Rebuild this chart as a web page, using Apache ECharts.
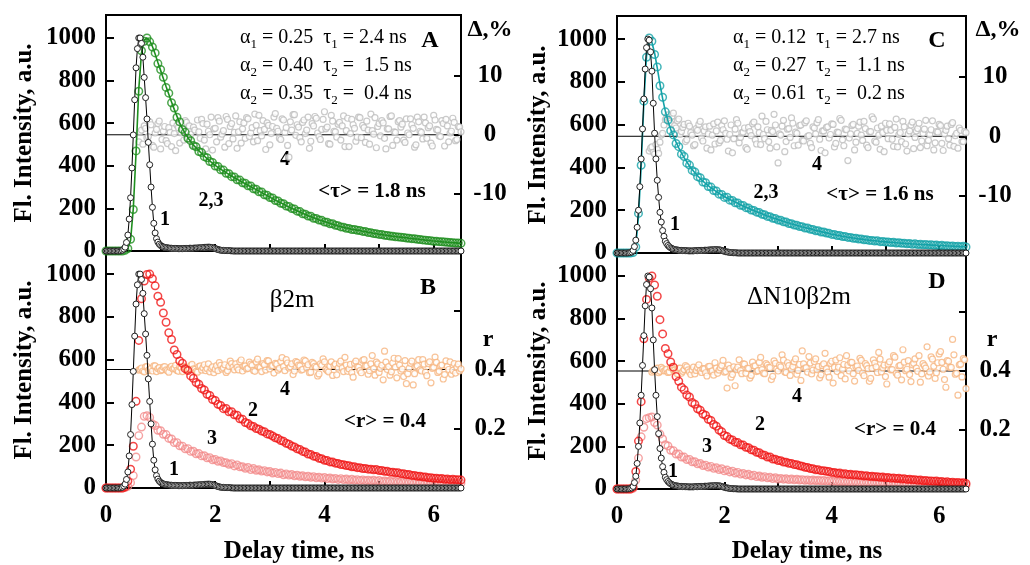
<!DOCTYPE html>
<html><head><meta charset="utf-8">
<script src="https://cdn.jsdelivr.net/npm/echarts@6/dist/echarts.min.js"></script>
<style>html,body{margin:0;padding:0;background:#fff}#c{width:1030px;height:565px}</style>
</head><body><div id="c"></div>
<script>
// ---------- DATA ----------
// main time channels (ns)
const timeNs = [
0,0.05,0.1,0.15,0.2,0.25,0.3,0.35,0.4,0.45,
0.5,0.55,0.6,0.65,0.7,0.75,0.8,0.85,0.9,0.95,
1,1.05,1.1,1.15,1.2,1.25,1.3,1.35,1.4,1.45,
1.5,1.55,1.6,1.65,1.7,1.75,1.8,1.85,1.9,1.95,
2,2.05,2.1,2.15,2.2,2.25,2.3,2.35,2.4,2.45,
2.5,2.55,2.6,2.65,2.7,2.75,2.8,2.85,2.9,2.95,
3,3.05,3.1,3.15,3.2,3.25,3.3,3.35,3.4,3.45,
3.5,3.55,3.6,3.65,3.7,3.75,3.8,3.85,3.9,3.95,
4,4.05,4.1,4.15,4.2,4.25,4.3,4.35,4.4,4.45,
4.5,4.55,4.6,4.65,4.7,4.75,4.8,4.85,4.9,4.95,
5,5.05,5.1,5.15,5.2,5.25,5.3,5.35,5.4,5.45,
5.5,5.55,5.6,5.65,5.7,5.75,5.8,5.85,5.9,5.95,
6,6.05,6.1,6.15,6.2,6.25,6.3,6.35,6.4,6.45,6.5];
// intermediate time channels (ns), used by IRF and residual / anisotropy points
const timeMid = [
0.025,0.075,0.125,0.175,0.225,0.275,0.325,0.375,0.425,0.475,
0.525,0.575,0.625,0.675,0.725,0.775,0.825,0.875,0.925,0.975,
1.025,1.075,1.125,1.175,1.225,1.275,1.325,1.375,1.425,1.475,
1.525,1.575,1.625,1.675,1.725,1.775,1.825,1.875,1.925,1.975,
2.025,2.075,2.125,2.175,2.225,2.275,2.325,2.375,2.425,2.475,
2.525,2.575,2.625,2.675,2.725,2.775,2.825,2.875,2.925,2.975,
3.025,3.075,3.125,3.175,3.225,3.275,3.325,3.375,3.425,3.475,
3.525,3.575,3.625,3.675,3.725,3.775,3.825,3.875,3.925,3.975,
4.025,4.075,4.125,4.175,4.225,4.275,4.325,4.375,4.425,4.475,
4.525,4.575,4.625,4.675,4.725,4.775,4.825,4.875,4.925,4.975,
5.025,5.075,5.125,5.175,5.225,5.275,5.325,5.375,5.425,5.475,
5.525,5.575,5.625,5.675,5.725,5.775,5.825,5.875,5.925,5.975,
6.025,6.075,6.125,6.175,6.225,6.275,6.325,6.375,6.425,6.475];

// instrument response (curve 1)
const irfBeta2m = [
0,0,0,0,0,0,4,18,75,250,545,860,1000,975,815,620,405,205,85,42,
26,19,16,14,13,12,12,11,11,12,12,13,13,14,15,16,17,18,18,16,
12,7,4,3,2,2,1,
0,0,0,0,0,0,0,0,0,0,0,0,0,0,0,0,0,0,0,0,0,0,0,0,0,0,0,0,0,0,0,0,0,0,0,0,0,0,0,0,0,0,
0,0,0,0,0,0,0,0,0,0,0,0,0,0,0,0,0,0,0,0,0,0,0,0,0,0,0,0,0,0,0,0,0,0,0,0,0,0,0,0,0,0];
const irfBeta2mMid = [
0,0,0,0,0,1,9,40,150,390,710,950,1000,910,720,510,300,130,58,32,
22,17,15,13,12,12,11,11,12,12,13,13,14,14,15,16,17,18,17,14,
9,5,3,2,2,1,
0,0,0,0,0,0,0,0,0,0,0,0,0,0,0,0,0,0,0,0,0,0,0,0,0,0,0,0,0,0,0,0,0,0,0,0,0,0,0,0,0,0,
0,0,0,0,0,0,0,0,0,0,0,0,0,0,0,0,0,0,0,0,0,0,0,0,0,0,0,0,0,0,0,0,0,0,0,0,0,0,0,0,0,0];
const irfDeltaN10 = [
0,0,0,0,0,2,12,60,200,440,720,960,995,850,560,340,190,105,55,35,
24,18,15,13,12,11,11,10,10,11,11,12,12,13,14,15,15,16,15,12,
8,5,3,2,1,
0,0,0,0,0,0,0,0,0,0,0,0,0,0,0,0,0,0,0,0,0,0,0,0,0,0,0,0,0,0,0,0,0,0,0,0,0,0,0,0,0,0,0,
0,0,0,0,0,0,0,0,0,0,0,0,0,0,0,0,0,0,0,0,0,0,0,0,0,0,0,0,0,0,0,0,0,0,0,0,0,0,0,0,0,0,0];
const irfDeltaN10Mid = [
0,0,0,0,1,5,30,120,310,580,860,1000,940,700,440,260,145,78,44,29,
21,16,14,12,11,11,10,10,10,11,12,12,13,13,14,15,16,15,14,10,
6,4,2,1,1,
0,0,0,0,0,0,0,0,0,0,0,0,0,0,0,0,0,0,0,0,0,0,0,0,0,0,0,0,0,0,0,0,0,0,0,0,0,0,0,0,0,0,0,
0,0,0,0,0,0,0,0,0,0,0,0,0,0,0,0,0,0,0,0,0,0,0,0,0,0,0,0,0,0,0,0,0,0,0,0,0,0,0,0,0,0];

// Panel A: beta2m magic-angle decay (2), fit (3), residuals (4, %)
const decayA = [
0,0,0,0,0,0,0,
3,12,55,195,470,750,940,985,1000,982,958,930,880,852,
816,768,741,696,671,628,606,571,557,529,518,495,489,467,462,443,438,420,416,399,
397,381,380,365,363,349,348,334,333,320,318,306,305,292,290,278,277,264,262,251,
249,237,235,224,222,211,209,199,197,187,185,175,173,164,163,154,153,145,144,136,
135,128,128,121,119,113,112,107,106,101,101,97,96,92,91,87,86,82,81,78,
77,74,73,70,69,67,66,64,63,61,60,58,57,55,54,52,51,49,48,46,
46,44,43,42,41,40,39,37,37,36];
const fitA = [
0,0,0,0,0,0,0,
2,10,50,200,460,760,930,990,1000,988,960,925,885,848,
810,772,736,700,665,632,600,575,552,532,514,498,484,471,458,446,434,423,412,402,
393,384,376,368,360,352,344,337,330,323,316,309,302,295,288,281,274,267,260,253,
246,239,232,226,220,213,207,201,195,189,183,177,171,166,161,156,151,146,142,138,
134,130,126,122,117,114,111,108,105,102,100,98,96,93,91,88,86,83,81,79,
77,75,73,71,69,68,66,65,63,62,60,59,57,56,54,53,51,50,48,47,
46,45,43,42,41,40,39,38,37,36];
const residA = [
null,null,null,null,null,null,null,null,null,null,null,null,
-1.2,0.8,1.5,-0.5,2.2,-1.8,0.3,1.9,-2.4,0.6,-1.0,1.2,-2.0,0.2,1.6,-1.4,0.9,2.4,-0.7,0.1,
1.3,-1.9,0.5,2.6,-0.9,1.8,0.0,-2.6,1.1,2.9,-0.4,0.7,3.1,-1.5,1.9,0.4,-2.3,2.2,1.0,-0.6,
2.7,0.3,-1.2,1.6,3.3,-0.2,0.9,2.0,-1.7,1.4,3.6,0.6,-0.8,2.5,1.2,-3.8,0.8,3.4,1.7,-0.5,
2.1,0.2,3.0,-1.1,1.5,2.8,-0.3,0.9,3.9,1.3,-1.6,2.3,0.5,1.8,-0.9,3.2,0.7,-2.0,2.6,1.1,
-0.4,2.9,1.6,-1.3,0.8,3.5,0.1,-2.2,1.9,2.4,-0.6,1.0,3.1,-1.8,0.4,2.2,1.3,-0.9,2.7,0.0,
1.7,-2.1,3.0,0.6,-0.7,2.0,1.2,-1.4,3.3,0.9,-0.2,2.4,-1.9,1.5,0.3,2.8,-1.0,1.4,0.5];
const residAMid = [
null,null,null,null,null,null,null,null,null,null,null,null,
0.5,-1.6,1.1,-0.3,1.7,-2.1,0.9,2.3,-0.8,1.4,
-1.5,0.4,2.0,-2.7,1.2,0.3,-0.9,2.1,1.5,-1.7,
0.8,2.5,-0.6,1.9,-2.4,0.6,3.0,1.0,-1.2,2.3,
0.1,-2.1,2.6,1.4,-0.7,3.2,0.5,-1.4,2.0,2.9,
-0.3,1.2,3.5,-1.0,0.7,2.4,-2.5,1.6,0.2,3.0,
1.1,-0.6,2.7,0.4,-1.8,2.2,3.4,-0.1,1.3,-1.2,
2.5,0.8,-2.3,1.9,3.1,0.3,-0.8,2.6,1.0,-1.5,
3.3,0.6,-0.4,2.1,1.5,-2.0,2.8,0.2,1.7,-1.1,
3.0,-0.5,1.2,2.3,-1.6,0.7,2.9,1.4,-0.2,2.0,
-2.4,1.0,3.2,0.5,-0.9,2.4,1.8,-1.3,0.3,2.7,
1.1,-1.7,2.2,0.4,3.0,-0.6,1.5,-1.9,2.5,0.8,
-0.3,1.9,2.6,-1.2,0.6,2.1,-0.8,1.3];

// Panel B: beta2m polarized decays (2 parallel, 3 perpendicular), anisotropy r (4)
const parB = [
0,0,0,0,0,0,0,5,
32,88,195,405,690,885,968,998,1000,978,945,897,868,
818,775,726,694,645,624,594,583,558,549,524,513,493,485,465,458,438,433,414,409,
391,386,371,372,356,357,342,340,324,321,306,302,291,288,278,275,266,263,253,250,
243,235,231,222,218,209,205,196,192,183,180,171,168,159,157,149,147,139,137,130,
128,122,121,116,115,110,109,105,104,99,99,95,95,91,91,88,88,85,86,82,
82,78,78,74,74,71,71,67,67,63,63,59,59,55,55,52,52,48,48,45,
46,43,44,41,42,39,41,38,39,37];
const perpB = [
0,0,0,0,0,0,0,2,8,
25,58,145,245,285,335,338,330,300,292,270,268,
251,250,232,229,212,212,197,196,183,184,171,172,160,161,150,151,141,142,132,134,
125,127,119,118,111,114,103,108,99,99,92,96,86,91,83,85,79,81,75,77,
70,73,67,70,62,66,60,63,57,60,55,57,52,55,50,53,48,51,46,49,
44,47,42,45,40,44,39,42,37,41,36,39,35,38,34,37,33,36,32,35,
30,33,29,32,28,31,27,30,27,29,26,28,25,28,24,27,24,26,23,26,
22,25,22,24,21,24,21,23,20,23];
const anisoB = [
null,null,null,null,null,null,null,null,null,null,null,null,
0.398,0.405,0.392,0.410,0.401,0.395,0.412,0.403,0.396,0.408,0.399,0.391,0.411,0.404,0.397,0.409,0.393,0.406,0.400,0.413,
0.402,0.394,0.410,0.398,0.416,0.403,0.392,0.409,0.401,0.396,0.414,0.405,0.390,0.411,0.420,0.399,0.407,0.426,0.395,0.412,
0.404,0.418,0.397,0.425,0.409,0.393,0.416,0.430,0.402,0.413,0.421,0.398,0.427,0.410,0.433,0.405,0.419,0.395,0.424,0.412,
0.400,0.429,0.416,0.391,0.420,0.408,0.385,0.414,0.426,0.397,0.411,0.380,0.418,0.405,0.428,0.393,0.415,0.402,0.389,0.421,
0.409,0.396,0.431,0.412,0.384,0.419,0.403,0.425,0.390,0.414,0.462,0.400,0.381,0.422,0.408,0.437,0.395,0.376,0.352,0.404,
0.428,0.386,0.412,0.399,0.433,0.391,0.420,0.355,0.407,0.424,0.394,0.415,0.383,0.410,0.426,0.397,0.388,0.418,0.402];
const anisoBMid = [
null,null,null,null,null,null,null,null,null,null,null,null,
0.401,0.395,0.409,0.397,0.404,0.412,0.393,0.406,0.399,0.410,
0.396,0.407,0.402,0.414,0.394,0.405,0.411,0.398,0.403,0.417,
0.400,0.391,0.412,0.406,0.396,0.419,0.404,0.389,0.413,0.423,
0.401,0.416,0.396,0.428,0.408,0.419,0.399,0.432,0.411,0.402,
0.425,0.414,0.394,0.435,0.407,0.420,0.398,0.429,0.413,0.388,
0.418,0.404,0.440,0.396,0.422,0.409,0.383,0.427,0.415,0.398,
0.432,0.406,0.389,0.424,0.411,0.378,0.419,0.436,0.401,0.392,
0.426,0.413,0.382,0.420,0.405,0.441,0.394,0.417,0.374,0.428,
0.408,0.389,0.433,0.412,0.396,0.447,0.381,0.419,0.404,0.365,
0.425,0.410,0.392,0.438,0.372,0.415,0.401,0.430,0.386,0.421,
0.348,0.407,0.433,0.395,0.418,0.379,0.426,0.404,0.442,0.390,
0.413,0.368,0.429,0.400,0.384,0.420,0.408,0.395];

// Panel C: dN10beta2m magic-angle decay (2), fit (3), residuals (4, %)
const decayC = [
0,0,0,0,0,0,2,
28,185,410,710,915,1005,990,928,870,782,728,660,622,572,
552,512,497,462,451,420,411,386,379,357,352,332,329,311,308,292,290,275,274,260,
261,247,246,235,234,223,222,212,210,201,199,191,189,181,179,171,170,162,161,154,
153,146,145,138,137,131,130,124,123,117,117,111,110,104,104,98,98,93,92,87,
87,82,82,77,77,73,73,69,69,65,66,62,62,59,59,56,57,53,54,51,
52,49,50,47,48,45,46,43,44,41,43,40,41,38,40,37,38,36,37,34,
36,33,34,32,33,30,32,29,31,28];
const fitC = [
0,0,0,0,0,0,3,
30,170,400,700,920,1000,985,935,865,790,722,664,617,578,
546,518,492,468,446,426,407,390,375,361,348,336,325,315,305,296,287,279,271,264,
257,250,244,238,232,226,220,214,209,203,198,193,188,183,178,173,169,164,160,156,
152,148,144,140,136,133,129,126,122,119,116,113,109,106,103,100,97,94,91,88,
86,83,81,78,76,74,72,70,68,66,65,63,61,60,58,57,56,54,53,52,
51,50,49,48,47,46,45,44,43,42,42,41,40,39,39,38,37,37,36,35,
35,34,33,33,32,31,31,30,30,29];
const residC = [
null,null,null,null,null,null,null,null,null,null,null,null,
-2.5,-1.8,-3.0,-2.2,-1.0,0.5,2.8,3.6,2.2,3.9,1.4,2.9,0.8,2.0,-0.6,1.7,0.2,-1.4,1.0,2.5,
-0.8,1.6,0.4,-2.3,2.1,0.9,-1.1,1.8,2.6,-0.5,0.3,-2.8,1.2,2.2,-0.2,0.7,-1.9,1.5,0.1,2.4,
-1.3,0.6,3.4,-0.4,1.1,-2.0,0.8,1.9,-4.5,0.2,2.7,-0.9,1.3,3.1,-1.6,0.5,1.8,-0.7,2.3,0.0,
-1.2,1.6,0.4,2.8,-2.4,0.9,1.5,-0.3,2.1,-1.8,0.7,3.0,-0.6,1.2,-4.1,0.4,2.0,-1.0,1.7,0.2,
2.5,-1.5,0.8,3.3,-0.8,1.4,-2.2,0.6,2.2,-0.4,1.0,-1.7,2.9,0.3,-0.9,1.6,-2.5,0.9,2.4,-0.2,
1.3,-1.9,0.5,2.7,-0.7,1.1,-2.3,0.8,2.0,-1.2,0.4,1.7,-1.5,2.3,0.1,-2.0,1.0,-0.9,0.6];
const residCMid = [
null,null,null,null,null,null,null,null,null,null,null,null,
-2.0,-2.7,-1.4,-2.9,0.2,1.9,3.2,2.5,3.4,1.8,
2.6,0.3,1.5,-0.9,2.2,0.6,-1.6,1.3,2.0,-0.3,
0.9,-2.0,1.7,0.2,-1.3,2.4,-0.7,1.1,0.5,-2.5,
1.9,-0.4,2.8,-1.1,0.6,1.4,-2.2,0.8,2.1,-0.6,
1.6,-1.4,0.3,2.5,-0.9,1.0,3.7,-1.8,0.4,1.7,
-2.6,1.2,-0.2,2.2,0.7,-1.5,1.9,-0.8,2.6,0.1,
-1.9,1.4,2.3,-0.5,0.9,-2.8,1.6,0.3,2.0,-1.2,
0.6,2.7,-1.6,1.1,-0.3,1.8,-2.3,0.5,2.4,-0.7,
1.3,-1.9,0.8,2.9,-1.0,0.2,1.7,-2.6,1.0,2.1,
-0.5,1.5,-1.8,0.6,2.5,-1.3,0.4,1.9,-2.1,0.9,
2.2,-0.8,1.2,-1.6,0.3,2.6,-1.1,0.7,1.8,-2.4,
1.0,-0.4,2.0,-1.7,0.5,1.4,-0.9,0.8];

// Panel D: dN10beta2m polarized decays (2, 3), anisotropy r (4)
const parD = [
0,0,0,0,0,0,8,
82,225,410,705,890,990,1000,958,905,795,728,660,635,596,
572,528,506,478,466,441,432,406,398,377,370,352,346,327,322,303,295,277,269,251,
246,234,230,220,218,208,206,196,194,184,182,172,170,161,159,150,150,141,140,134,
133,127,126,121,120,115,114,109,107,102,101,96,95,90,90,86,86,83,82,78,
78,74,75,71,72,68,69,66,67,64,64,61,62,59,60,57,58,55,56,53,
54,51,52,49,50,47,48,45,46,43,44,41,42,39,40,37,38,36,37,34,
35,32,34,31,32,29,31,28,29,26];
const perpD = [
0,0,0,0,0,0,3,
42,145,245,290,330,335,338,312,300,258,235,208,202,182,
180,164,164,150,150,138,139,128,128,118,120,110,112,103,106,97,100,91,95,85,
89,80,84,75,78,70,73,66,69,62,65,58,61,55,58,52,55,49,53,47,
50,46,48,44,47,43,46,42,44,41,43,40,42,39,41,38,40,37,39,36,
37,35,36,34,35,33,34,32,34,31,33,30,32,29,31,29,30,28,30,27,
29,27,28,26,28,25,27,25,26,24,26,23,25,23,24,22,24,21,23,21,
23,20,22,20,21,19,21,19,20,18];
const anisoD = [
null,null,null,null,null,null,null,null,null,null,null,null,null,
0.396,0.404,0.410,0.399,0.407,0.402,0.395,0.411,0.403,0.398,0.409,0.392,0.405,0.414,0.397,0.403,0.390,0.412,0.401,0.408,
0.394,0.415,0.399,0.386,0.410,0.403,0.419,0.396,0.342,0.408,0.388,0.350,0.413,0.401,0.424,0.392,0.409,0.385,0.417,0.398,
0.429,0.405,0.391,0.420,0.411,0.382,0.426,0.400,0.414,0.437,0.395,0.418,0.406,0.431,0.389,0.422,0.468,0.410,0.396,0.427,
0.403,0.441,0.415,0.387,0.424,0.408,0.379,0.433,0.412,0.398,0.445,0.406,0.373,0.420,0.429,0.391,0.414,0.402,0.436,0.384,
0.418,0.365,0.409,0.427,0.395,0.440,0.411,0.381,0.423,0.404,0.452,0.392,0.417,0.370,0.430,0.406,0.388,0.421,0.441,0.399,
0.362,0.425,0.410,0.383,0.448,0.416,0.394,0.458,0.429,0.371,0.435,0.412,0.507,0.389,0.318,0.423,0.442,0.340];
const anisoDMid = [
null,null,null,null,null,null,null,null,null,null,null,null,null,
0.401,0.408,0.394,0.412,0.400,0.406,0.397,0.415,0.403,0.391,
0.410,0.399,0.418,0.404,0.388,0.413,0.402,0.421,0.395,0.407,
0.383,0.416,0.400,0.428,0.392,0.411,0.436,0.398,0.420,0.379,
0.414,0.405,0.438,0.391,0.423,0.409,0.376,0.430,0.417,0.401,
0.446,0.393,0.425,0.412,0.371,0.434,0.407,0.419,0.455,0.397,
0.428,0.385,0.415,0.441,0.402,0.368,0.424,0.411,0.449,0.390,
0.432,0.405,0.377,0.418,0.460,0.396,0.426,0.359,0.437,0.413,
0.384,0.422,0.452,0.400,0.429,0.366,0.417,0.443,0.393,0.425,
0.408,0.375,0.438,0.414,0.463,0.397,0.420,0.356,0.431,0.405,
0.447,0.386,0.419,0.472,0.401,0.435,0.364,0.426,0.410,0.452,
0.390,0.418,0.482,0.397,0.440,0.375,0.428,0.466,0.406,0.345,
0.433,0.412,0.455,0.392,0.421,0.380,0.438];

const timeRange = [0, 6.5];
const residualZero = 0;      // Δ = 0 %
const anisoReference = 0.4;  // r = 0.4
const intensityTicks = [0, 200, 400, 600, 800, 1000];
const timeTicks = [0, 2, 4, 6];
const residualTicks = [-10, 0, 10];
const anisoTicks = [0.2, 0.4];

// ---------- STYLE ----------
const FONT = 'Liberation Serif';
const GREEN = '#1f8f1f', TEAL = '#14a2a8', RED = '#f01818', PINK = '#f38b8b', PEACH = '#f6b47e', GREY = '#bdbdbd';

function pairs(vals, times) {
  times = times || timeNs;
  const out = [];
  for (let i = 0; i < times.length; i++) if (vals[i] != null) out.push([times[i], vals[i]]);
  return out;
}
function merged(main, mid) {
  return pairs(main, timeNs).concat(pairs(mid, timeMid)).sort((a, b) => a[0] - b[0]);
}
function refLine(xi, yi, v) {
  return { type: 'line', xAxisIndex: xi, yAxisIndex: yi, z: 1, silent: true, symbol: 'none',
    data: [[timeRange[0], v], [timeRange[1], v]], lineStyle: { color: '#000', width: 1 } };
}
function dots(xi, yi, data, color, size, bw, fill) {
  return { type: 'scatter', xAxisIndex: xi, yAxisIndex: yi, z: 2, silent: true, symbol: 'circle', symbolSize: size,
    data: data, itemStyle: { color: fill, borderColor: color, borderWidth: bw } };
}
function fitLine(xi, yi, vals, color) {
  return { type: 'line', xAxisIndex: xi, yAxisIndex: yi, z: 3, silent: true, showSymbol: false,
    data: pairs(vals), lineStyle: { color: color, width: 1.6 } };
}
function irf(xi, yi, data) {
  return { type: 'line', xAxisIndex: xi, yAxisIndex: yi, z: 4, silent: true, symbol: 'circle', symbolSize: 6,
    showAllSymbol: true, data: data,
    itemStyle: { color: '#fff', borderColor: '#222', borderWidth: 1 }, lineStyle: { color: '#000', width: 1 } };
}
const lab = { fontFamily: FONT, fontWeight: 'bold', fontSize: 25, color: '#000' };
function xAx(gi, showLabels) {
  return { type: 'value', gridIndex: gi, min: timeRange[0], max: timeRange[1],
    axisLine: { show: false }, splitLine: { show: false },
    axisTick: { inside: true, length: 7, lineStyle: { color: '#000', width: 2 }, customValues: [1, 2, 3, 4, 5, 6] },
    axisLabel: Object.assign({ show: showLabels, margin: 15, customValues: timeTicks, formatter: v => String(v) }, lab) };
}
function yLeft(gi) {
  return { type: 'value', gridIndex: gi, position: 'left', min: 0, max: 1108,
    axisLine: { show: false }, splitLine: { show: false },
    axisTick: { inside: true, length: 8, lineStyle: { color: '#000', width: 2 }, customValues: [200, 400, 600, 800, 1000] },
    axisLabel: Object.assign({ margin: 10, customValues: intensityTicks, formatter: v => String(v) }, lab) };
}
function yRight(gi, min, max, ticks, labels) {
  return { type: 'value', gridIndex: gi, position: 'right', min: min, max: max,
    axisLine: { show: false }, splitLine: { show: false },
    axisTick: { inside: true, length: 7, lineStyle: { color: '#000', width: 2 }, customValues: ticks },
    axisLabel: Object.assign({ margin: 29, align: 'center', customValues: labels, formatter: v => String(v) }, lab) };
}
function T(x, y, text, size, bold, extra) {
  return Object.assign({ type: 'text', x: x, y: y, silent: true,
    style: { text: text, fontFamily: FONT, fontSize: size, fontWeight: bold ? 'bold' : 'normal', fill: '#000',
      align: 'center', verticalAlign: 'middle' } }, extra || {});
}
function alphaLine(x, y, a, av, tv) {
  return { type: 'text', x: x, y: y, silent: true,
    style: { text: '{n|α}{s|' + a + '}{n| = ' + av + '  τ}{s|' + a + '}{n| = ' + tv + ' ns}',
      fill: '#000', align: 'left', verticalAlign: 'middle',
      rich: { n: { fontFamily: FONT, fontSize: 20, lineHeight: 26, fill: '#000' },
              s: { fontFamily: FONT, fontSize: 13, lineHeight: 13, verticalAlign: 'bottom', fill: '#000' } } } };
}
const rot = { rotation: Math.PI / 2 };

const grids = [
  { left: 106, top: 15, width: 355, height: 236 },
  { left: 106, top: 251, width: 355, height: 237 },
  { left: 617, top: 16, width: 349, height: 237 },
  { left: 617, top: 253, width: 349, height: 236 }
].map(g => Object.assign({ show: true, borderColor: '#000', borderWidth: 2, backgroundColor: 'transparent' }, g));

const CLEAR = 'rgba(0,0,0,0)';
const option = {
  animation: false,
  backgroundColor: '#fff',
  grid: grids,
  xAxis: [xAx(0, false), xAx(1, true), xAx(2, false), xAx(3, true)],
  yAxis: [
    yLeft(0), yRight(0, -19.7, 20.3, residualTicks, residualTicks),
    yLeft(1), yRight(1, 0, 0.8, [0.2, 0.4, 0.6], anisoTicks),
    yLeft(2), yRight(2, -19.7, 20.3, residualTicks, residualTicks),
    yLeft(3), yRight(3, 0, 0.8, [0.2, 0.4, 0.6], anisoTicks)
  ],
  series: [
    // A
    refLine(0, 1, residualZero),
    dots(0, 1, merged(residA, residAMid), GREY, 6, 1.2, '#fff'),
    dots(0, 0, pairs(decayA), GREEN, 7.5, 1.5, CLEAR),
    fitLine(0, 0, fitA, GREEN),
    irf(0, 0, merged(irfBeta2m, irfBeta2mMid)),
    // B
    refLine(1, 3, anisoReference),
    dots(1, 3, merged(anisoB, anisoBMid), PEACH, 6, 1.2, '#fff'),
    dots(1, 2, pairs(perpB), PINK, 7.5, 1.4, CLEAR),
    dots(1, 2, pairs(parB), RED, 7.5, 1.5, CLEAR),
    irf(1, 2, merged(irfBeta2m, irfBeta2mMid)),
    // C
    refLine(2, 5, residualZero),
    dots(2, 5, merged(residC, residCMid), GREY, 6, 1.2, '#fff'),
    dots(2, 4, pairs(decayC), TEAL, 7.5, 1.5, CLEAR),
    fitLine(2, 4, fitC, TEAL),
    irf(2, 4, merged(irfDeltaN10, irfDeltaN10Mid)),
    // D
    refLine(3, 7, anisoReference),
    dots(3, 7, merged(anisoD, anisoDMid), PEACH, 6, 1.2, '#fff'),
    dots(3, 6, pairs(perpD), PINK, 7.5, 1.4, CLEAR),
    dots(3, 6, pairs(parD), RED, 7.5, 1.5, CLEAR),
    irf(3, 6, merged(irfDeltaN10, irfDeltaN10Mid))
  ],
  graphic: [
    // Panel A
    alphaLine(240, 38, '1', '0.25', '2.4'),
    alphaLine(240, 66, '2', '0.40', ' 1.5'),
    alphaLine(240, 94, '2', '0.35', ' 0.4'),
    T(430, 41, 'A', 24, true),
    T(285, 160, '4', 20, true),
    T(211, 201, '2,3', 20, true),
    T(372, 192, '<τ> = 1.8 ns', 21, true),
    T(165, 220, '1', 20, true),
    T(490, 30, 'Δ,%', 24, true),
    T(25, 133, 'Fl. Intensity, a.u.', 25, true, rot),
    // Panel B
    T(292, 300, 'β2m', 25, false),
    T(428, 288, 'B', 24, true),
    T(285, 390, '4', 20, true),
    T(253, 411, '2', 20, true),
    T(385, 422, '<r> = 0.4', 21, true),
    T(212, 439, '3', 20, true),
    T(174, 470, '1', 20, true),
    T(488, 340, 'r', 24, true),
    T(25, 370, 'Fl. Intensity, a.u.', 25, true, rot),
    T(299, 552, 'Delay time, ns', 25, true),
    // Panel C
    alphaLine(733, 38, '1', '0.12', '2.7'),
    alphaLine(733, 66, '2', '0.27', ' 1.1'),
    alphaLine(733, 94, '2', '0.61', ' 0.2'),
    T(937, 41, 'C', 24, true),
    T(817, 165, '4', 20, true),
    T(766, 193, '2,3', 20, true),
    T(880, 195, '<τ> = 1.6 ns', 21, true),
    T(675, 225, '1', 20, true),
    T(998, 30, 'Δ,%', 24, true),
    T(539, 135, 'Fl. Intensity, a.u.', 25, true, rot),
    // Panel D
    T(799, 297, 'ΔN10β2m', 25, false),
    T(937, 282, 'D', 24, true),
    T(797, 397, '4', 20, true),
    T(760, 425, '2', 20, true),
    T(895, 430, '<r> = 0.4', 21, true),
    T(707, 447, '3', 20, true),
    T(673, 472, '1', 20, true),
    T(992, 340, 'r', 24, true),
    T(539, 371, 'Fl. Intensity, a.u.', 25, true, rot),
    T(807, 552, 'Delay time, ns', 25, true)
  ]
};
echarts.init(document.getElementById('c'), null, { renderer: 'canvas' }).setOption(option);
</script></body></html>
